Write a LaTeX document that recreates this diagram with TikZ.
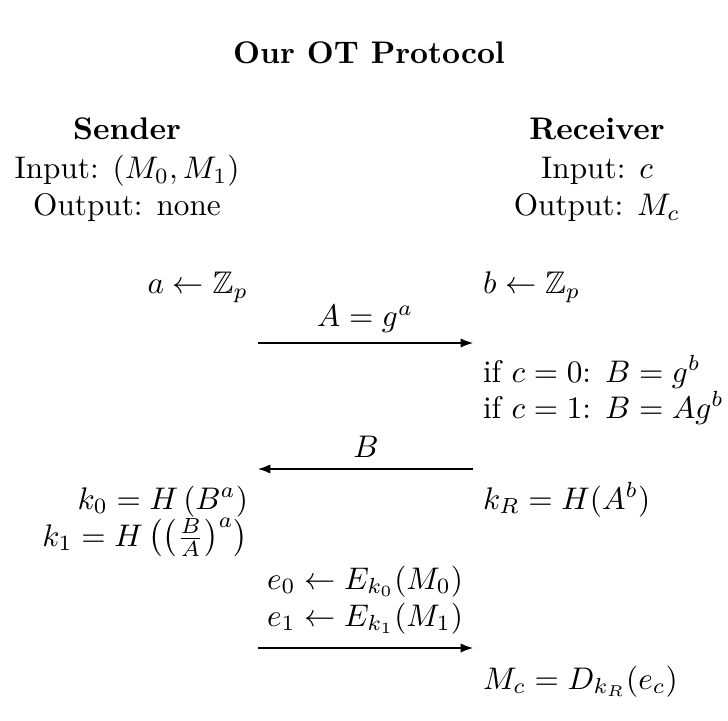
\documentclass[tikz,border=0pt]{standalone}
\usepackage{amsmath,amssymb}
\usepackage{tikz}
\usetikzlibrary{arrows.meta}

\begin{document}
\begin{tikzpicture}[x=0.32pt,y=-0.32pt,
  nodes={inner sep=0pt,outer sep=0pt},
  lft/.style={anchor=base east},
  rgt/.style={anchor=base west},
  mid/.style={anchor=base},
  msg/.style={draw,-{Latex[length=1.4mm]}}]
\useasboundingbox (0,0) rectangle (728,720);
% title and parties
\node[mid] (title) at (369,64) {\textbf{Our OT Protocol}};
\node[mid] (snd) at (127,140) {\textbf{Sender}};
\node[mid] (sndin) at (127,179) {Input: $(M_0,M_1)$};
\node[mid] (sndout) at (127,216) {Output: none};
\node[mid] (rcv) at (597,140) {\textbf{Receiver}};
\node[mid] (rcvin) at (597,179) {Input: $c$};
\node[mid] (rcvout) at (597,216) {Output: $M_c$};
% first round
\node[lft] (sa) at (248,294) {$a \leftarrow \mathbb{Z}_p$};
\node[rgt] (rb) at (483,294) {$b \leftarrow \mathbb{Z}_p$};
\node[mid] (mA) at (365,327) {$A = g^a$};
\coordinate (s1) at (258,343);
\coordinate (r1) at (473,343);
\draw[msg] (s1) -- (r1);
\node[rgt] (rB0) at (483,382) {if $c=0$: $B = g^b$};
\node[rgt] (rB1) at (483,418) {if $c=1$: $B = Ag^b$};
% second round
\node[mid] (mB) at (366,457) {$B$};
\coordinate (r2) at (473,469);
\coordinate (s2) at (258,469);
\draw[msg] (r2) -- (s2);
\node[lft] (sk0) at (248,509) {$k_0 = H\left(B^a\right)$};
\node[lft] (sk1) at (248,546) {$k_1 = H\left(\bigl(\frac{B}{A}\bigr)^a\right)$};
\node[rgt] (rkR) at (483,509) {$k_R = H(A^b)$};
% third round
\node[mid] (me0) at (365,589) {$e_0 \leftarrow E_{k_0}(M_0)$};
\node[mid] (me1) at (365,626) {$e_1 \leftarrow E_{k_1}(M_1)$};
\coordinate (s3) at (258,648);
\coordinate (r3) at (473,648);
\draw[msg] (s3) -- (r3);
\node[rgt] (rMc) at (483,689) {$M_c = D_{k_R}(e_c)$};
\end{tikzpicture}
\end{document}
